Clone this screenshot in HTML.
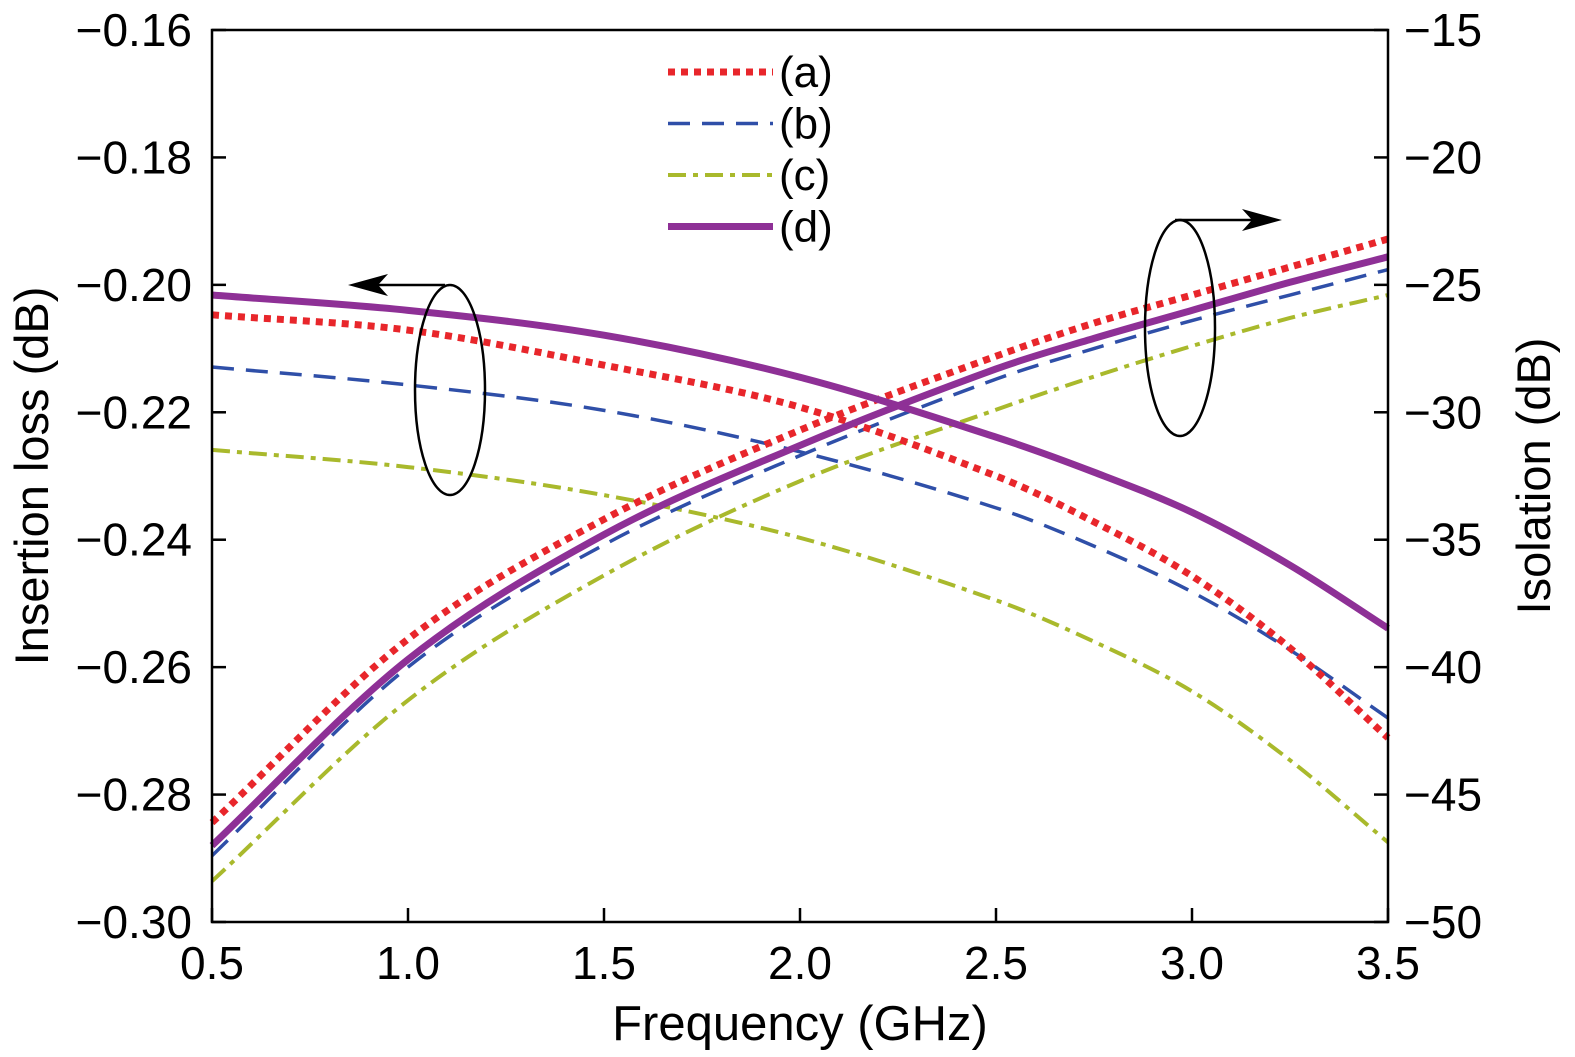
<!DOCTYPE html>
<html><head><meta charset="utf-8"><style>
html,body{margin:0;padding:0;background:#fff;}
svg{display:block;font-family:"Liberation Sans",sans-serif;}
</style></head><body>
<svg id="chart" width="1575" height="1057" viewBox="0 0 1575 1057">
<g id="grid"></g>
<g id="curves"></g>
<g id="legend"></g>
<g id="annot">
  <ellipse cx="450" cy="390" rx="35" ry="105" fill="none" stroke="#000" stroke-width="2.5"/>
  <line x1="445" y1="285" x2="365" y2="285" stroke="#000" stroke-width="2.5"/>
  <polygon points="348,285 388,274 378,285 388,296" fill="#000"/>
  <ellipse cx="1180" cy="328" rx="35" ry="108" fill="none" stroke="#000" stroke-width="2.5"/>
  <line x1="1175" y1="220" x2="1265" y2="220" stroke="#000" stroke-width="2.5"/>
  <polygon points="1282,220 1242,209 1252,220 1242,231" fill="#000"/>
</g>
<rect x="212" y="30" width="1176" height="892" fill="none" stroke="#000" stroke-width="2.5"/>
<text x="800" y="1040" font-size="49" text-anchor="middle">Frequency (GHz)</text>
<text transform="translate(48,476) rotate(-90)" font-size="47" text-anchor="middle">Insertion loss (dB)</text>
<text transform="translate(1550,476) rotate(-90)" font-size="47" text-anchor="middle">Isolation (dB)</text>
</svg>
<script>
const freqs=[0.5,1.0,1.5,2.0,2.5,2.75,3.0,3.25,3.5];
const xTicks=[0.5,1.0,1.5,2.0,2.5,3.0,3.5];
const leftTicks=[-0.16,-0.18,-0.20,-0.22,-0.24,-0.26,-0.28,-0.30];
const rightTicks=[-15,-20,-25,-30,-35,-40,-45,-50];
const ilA=[-0.2047,-0.2071,-0.2126,-0.2192,-0.2300,-0.2372,-0.2457,-0.2570,-0.2711];
const ilB=[-0.2129,-0.2157,-0.2197,-0.2262,-0.2350,-0.2410,-0.2482,-0.2573,-0.2680];
const ilC=[-0.2259,-0.2286,-0.2330,-0.2397,-0.2495,-0.2560,-0.2638,-0.2746,-0.2875];
const ilD=[-0.2016,-0.2040,-0.2079,-0.2145,-0.2239,-0.2294,-0.2357,-0.2440,-0.2539];
const isoA=[-46.1,-38.9,-34.2,-30.7,-27.8,-26.5,-25.4,-24.3,-23.2];
const isoB=[-47.4,-40.0,-35.2,-31.7,-28.7,-27.5,-26.4,-25.4,-24.4];
const isoC=[-48.4,-41.3,-36.4,-32.7,-29.9,-28.6,-27.4,-26.3,-25.4];
const isoD=[-47.0,-39.7,-34.8,-31.3,-28.3,-27.1,-26.0,-24.9,-23.9];
const labels=["(a)","(b)","(c)","(d)"];

const NS="http://www.w3.org/2000/svg";
const X0=212,X1=1388,Y0=30,Y1=922;
const xs=v=>X0+(v-0.5)/3*(X1-X0);
const yl=v=>Y0+(-0.16-v)/0.14*(Y1-Y0);
const yr=v=>Y0+(-15-v)/35*(Y1-Y0);
function mk(tag,attrs,parent){const e=document.createElementNS(NS,tag);for(const k in attrs)e.setAttribute(k,attrs[k]);parent.appendChild(e);return e;}
const grid=document.getElementById('grid');
xTicks.forEach(t=>{
  const e=mk('line',{x1:xs(t),x2:xs(t),y1:Y1,y2:Y1-14,stroke:'#000','stroke-width':2.5},grid);
  
  
  const tx=mk('text',{x:xs(t),y:Y1+57,'font-size':46,'text-anchor':'middle'},grid);
  tx.textContent=t.toFixed(1);
  
  
});
leftTicks.forEach(t=>{
  const e=mk('line',{x1:X0,x2:X0+14,y1:yl(t),y2:yl(t),stroke:'#000','stroke-width':2.5},grid);
  
  
  const tx=mk('text',{x:X0-20,y:yl(t)+16,'font-size':46,'text-anchor':'end'},grid);
  tx.textContent='\u2212'+Math.abs(t).toFixed(2);
  
  
});
rightTicks.forEach(t=>{
  const e=mk('line',{x1:X1,x2:X1-14,y1:yr(t),y2:yr(t),stroke:'#000','stroke-width':2.5},grid);
  
  
  const tx=mk('text',{x:X1+16,y:yr(t)+16,'font-size':46,'text-anchor':'start'},grid);
  tx.textContent='\u2212'+Math.abs(t);
  
  
});
// cubic Hermite with x-aware tangents (smooth for uneven spacing)
function path(pts){
  const n=pts.length,m=[];
  for(let i=0;i<n;i++){
    const a=pts[Math.max(0,i-1)],b=pts[Math.min(n-1,i+1)];
    m.push((b[1]-a[1])/(b[0]-a[0]));
  }
  let d='M'+pts[0][0]+','+pts[0][1];
  for(let i=0;i<n-1;i++){
    const p1=pts[i],p2=pts[i+1],h=(p2[0]-p1[0])/3;
    d+=' C'+(p1[0]+h)+','+(p1[1]+m[i]*h)+' '+(p2[0]-h)+','+(p2[1]-m[i+1]*h)+' '+p2[0]+','+p2[1];
  }
  return d;
}
const styles=[
 {stroke:'#e8262b',w:7,dash:'7 6'},
 {stroke:'#2f4fa8',w:3.5,dash:'22 12'},
 {stroke:'#a9b92c',w:4,dash:'18 7 5 7'},
 {stroke:'#8e3096',w:7,dash:''}];
const curves=document.getElementById('curves');
const IL=[ilA,ilB,ilC,ilD],ISO=[isoA,isoB,isoC,isoD];
[2,1,0,3].forEach(i=>{
  const s=styles[i];
  const a=mk('path',{d:path(freqs.map((f,j)=>[xs(f),yl(IL[i][j])])),fill:'none',stroke:s.stroke,'stroke-width':s.w,'stroke-dasharray':s.dash},curves);
  
  
  const b=mk('path',{d:path(freqs.map((f,j)=>[xs(f),yr(ISO[i][j])])),fill:'none',stroke:s.stroke,'stroke-width':s.w,'stroke-dasharray':s.dash},curves);
  
  
});
const lg=document.getElementById('legend');
labels.forEach((l,i)=>{
  const y=72+i*51.5,s=styles[i];
  const ln=mk('line',{x1:668,x2:773,y1:y,y2:y,stroke:s.stroke,'stroke-width':s.w,'stroke-dasharray':s.dash},lg);
  
  
  const t=mk('text',{x:779,y:y+15,'font-size':44},lg);
  t.textContent=l;
  
  
});
</script>
</body></html>
